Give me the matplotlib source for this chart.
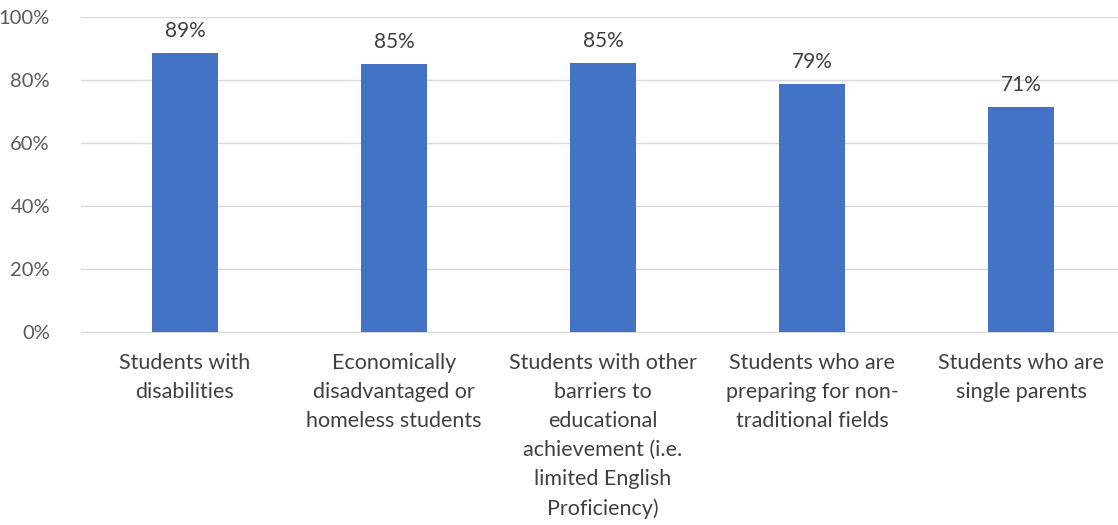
import matplotlib.pyplot as plt
import numpy as np

categories = [
    "Students with\ndisabilities",
    "Economically\ndisadvantaged or\nhomeless students",
    "Students with other\nbarriers to\neducational\nachievement (i.e.\nlimited English\nProficiency)",
    "Students who are\npreparing for non-\ntraditional fields",
    "Students who are\nsingle parents",
]
values = [88.6, 85.1, 85.3, 78.6, 71.5]
labels = ["89%", "85%", "85%", "79%", "71%"]
yticks = [0, 20, 40, 60, 80, 100]

plt.rcParams['font.family'] = ['Lato', 'DejaVu Sans']

fig = plt.figure(figsize=(11.18, 5.25), dpi=100)
ax = fig.add_axes([80.5 / 1118, 193 / 525, 1045 / 1118, 315 / 525])

x = np.arange(len(categories))
ax.bar(x, values, width=0.315, color='#4472C4', zorder=3)
for xi, v, lab in zip(x, values, labels):
    ax.text(xi, v + 3.8, lab, ha='center', va='bottom', fontsize=15, color='#404040')

ax.set_xlim(-0.5, 4.5)
ax.set_ylim(0, 100)
ax.set_yticks(yticks)
ax.set_yticklabels([f"{t}%" for t in yticks], fontsize=14.5, color='#595959')
ax.set_xticks(x)
ax.set_xticklabels(categories, fontsize=15.5, color='#404040', linespacing=1.56, va='top')
ax.tick_params(axis='x', length=0, pad=15)
ax.tick_params(axis='y', length=0, pad=22)
ax.grid(axis='y', color='#d9d9d9', linewidth=1, zorder=0)
for s in ['top', 'right', 'left']:
    ax.spines[s].set_visible(False)
ax.spines['bottom'].set_color('#d9d9d9')

fig.savefig('out.png', dpi=100)
